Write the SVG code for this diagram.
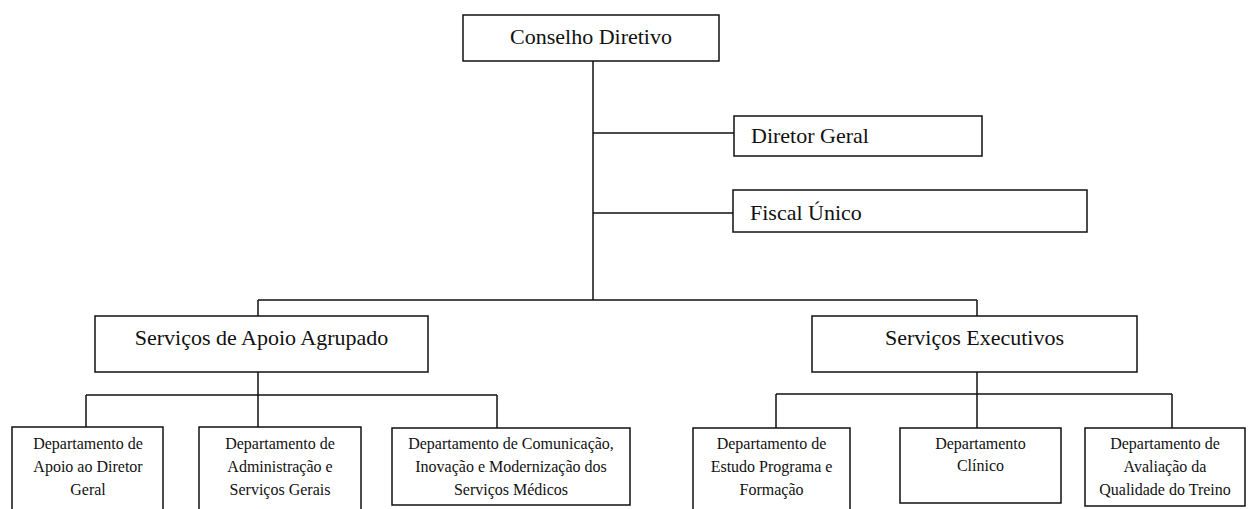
<svg xmlns="http://www.w3.org/2000/svg" width="1249" height="509" viewBox="0 0 1249 509">
<style>
.box{fill:#fff;stroke:#111;stroke-width:1.5}
.ln{stroke:#111;stroke-width:1.5;fill:none}
.t{font-family:"Liberation Serif","Times New Roman",serif;font-size:22px;fill:#111}
.s{font-family:"Liberation Serif","Times New Roman",serif;font-size:16px;fill:#111;text-anchor:middle}
.c{text-anchor:middle}
</style>
<rect width="1249" height="509" fill="#fff"/>
<g id="connectors">
<path class="ln" d="M593 61V300M593 133H734M593 213H733M258 300H977M258 300V316M977 300V316"/>
<path class="ln" d="M258 372V427M86 395H497M86 395V427M497 395V428"/>
<path class="ln" d="M977 372V428M776 394H1172M776 394V428M1172 394V428"/>
</g>
<g id="conselho"><rect class="box" x="463" y="15" width="256" height="46"/><text class="t c" x="591" y="44">Conselho Diretivo</text></g>
<g id="diretor"><rect class="box" x="734" y="116" width="248" height="40"/><text class="t" x="751" y="143">Diretor Geral</text></g>
<g id="fiscal"><rect class="box" x="733" y="190" width="354" height="42"/><text class="t" x="750" y="220">Fiscal Único</text></g>
<g id="apoio"><rect class="box" x="95" y="316" width="333" height="56"/><text class="t c" x="261.5" y="345">Serviços de Apoio Agrupado</text></g>
<g id="executivos"><rect class="box" x="812" y="316" width="325" height="56"/><text class="t c" x="974.5" y="345">Serviços Executivos</text></g>
<g id="dep1"><rect class="box" x="12" y="427" width="151" height="90"/><text class="s" x="88" y="449">Departamento de</text><text class="s" x="88" y="472">Apoio ao Diretor</text><text class="s" x="88" y="495">Geral</text></g>
<g id="dep2"><rect class="box" x="199" y="427" width="162" height="90"/><text class="s" x="280" y="449">Departamento de</text><text class="s" x="280" y="472">Administração e</text><text class="s" x="280" y="495">Serviços Gerais</text></g>
<g id="dep3"><rect class="box" x="392" y="428" width="238" height="77"/><text class="s" x="511" y="449">Departamento de Comunicação,</text><text class="s" x="511" y="472">Inovação e Modernização dos</text><text class="s" x="511" y="495">Serviços Médicos</text></g>
<g id="dep4"><rect class="box" x="693" y="428" width="157" height="90"/><text class="s" x="771.5" y="449">Departamento de</text><text class="s" x="771.5" y="472">Estudo Programa e</text><text class="s" x="771.5" y="495">Formação</text></g>
<g id="dep5"><rect class="box" x="900" y="428" width="161" height="75"/><text class="s" x="980.5" y="449">Departamento</text><text class="s" x="980.5" y="471">Clínico</text></g>
<g id="dep6"><rect class="box" x="1085" y="428" width="160" height="78"/><text class="s" x="1165" y="449">Departamento de</text><text class="s" x="1165" y="472">Avaliação da</text><text class="s" x="1165" y="495">Qualidade do Treino</text></g>
</svg>
